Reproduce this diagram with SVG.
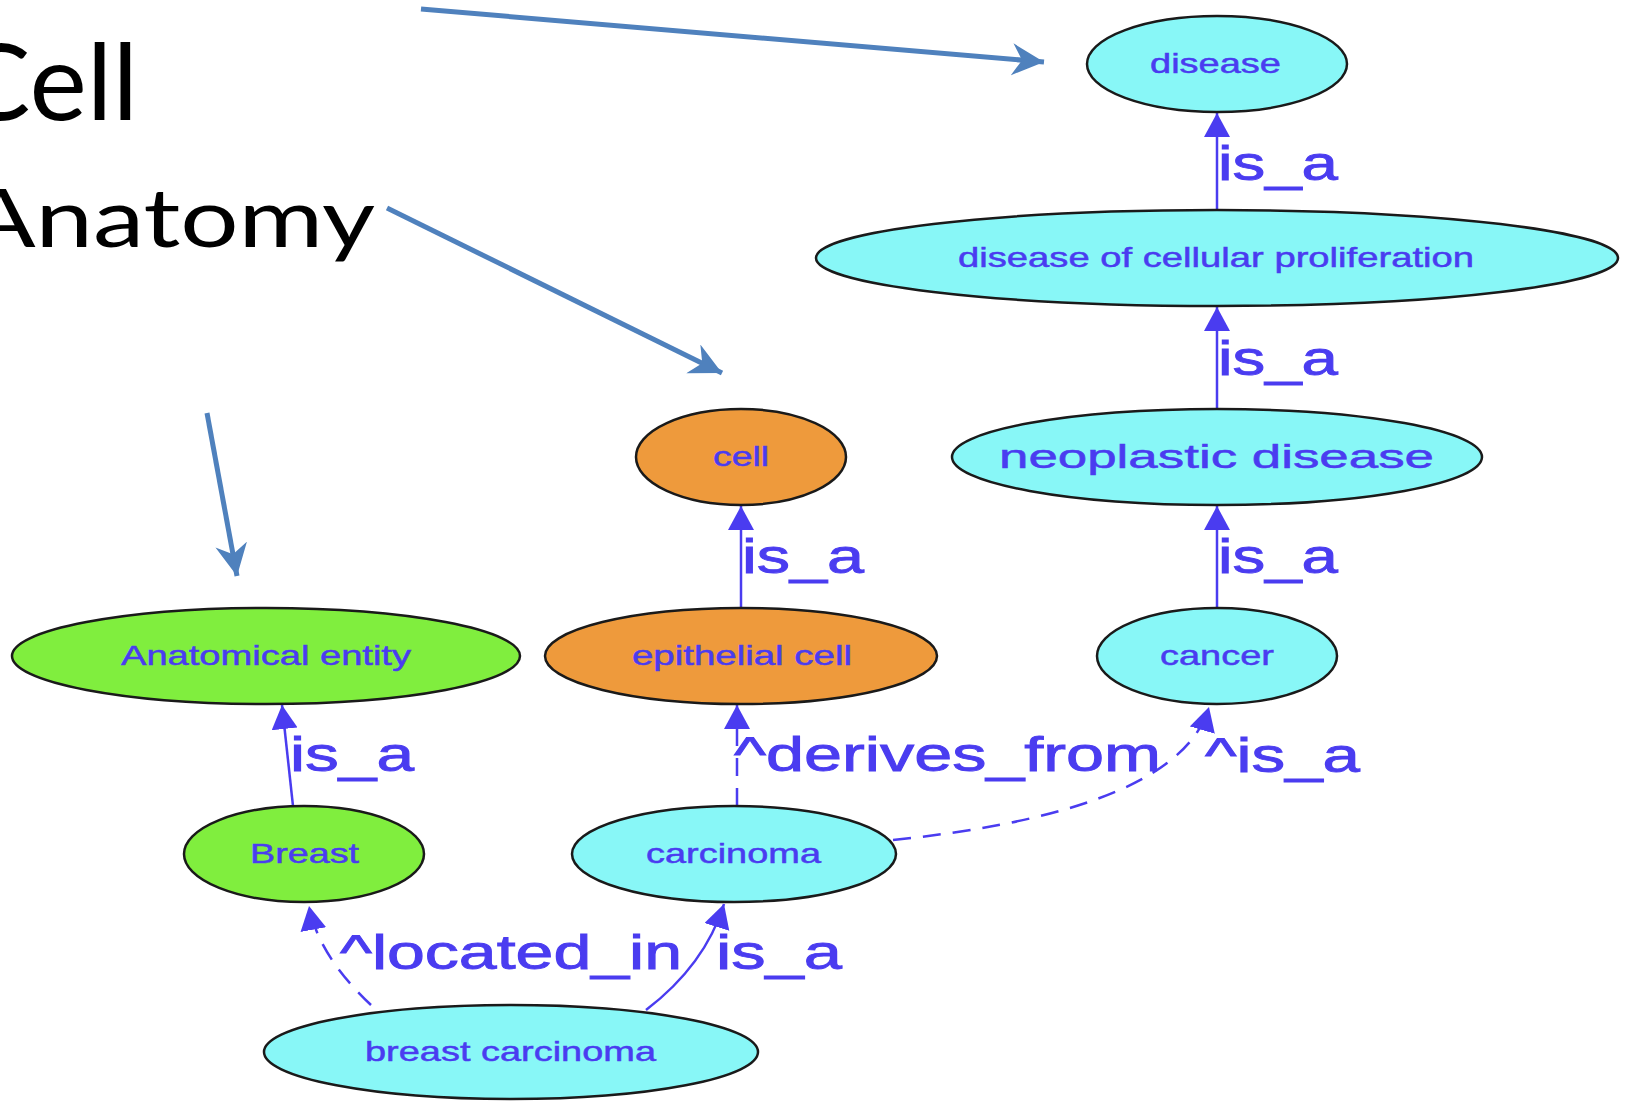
<svg xmlns="http://www.w3.org/2000/svg" width="1625" height="1101" viewBox="0 0 1625 1101">
<style>
.node ellipse{stroke:#1a1a1a;stroke-width:2.5}
.cyan{fill:#88F7F7}
.orange{fill:#EE9A3C}
.green{fill:#80EE3E}
.nl{font-family:"Liberation Sans",Arial,sans-serif;font-size:28px;fill:#4a3cf0;stroke:#4a3cf0;stroke-width:0.5}
.el{font-family:"Liberation Sans",Arial,sans-serif;font-size:48px;fill:#4a3cf0;stroke:#4a3cf0;stroke-width:0.9}
.edge{fill:none;stroke:#4a3cf0;stroke-width:2.5}
.dash{stroke-dasharray:18 12}
.ann{fill:none;stroke:#4F81BD;stroke-width:5}
.title{font-family:Lato,"Open Sans",sans-serif;fill:#000}
</style>
<defs>
<marker id="ah" markerUnits="userSpaceOnUse" markerWidth="26" markerHeight="28" refX="24" refY="13" orient="auto">
<path d="M0,0 L24,13 L0,26 z" fill="#4a3cf0"/>
</marker>
<marker id="bh" markerUnits="userSpaceOnUse" markerWidth="34" markerHeight="34" refX="32" refY="16" orient="auto">
<path d="M0,0 L32,16 L0,32 L10,16 z" fill="#4F81BD"/>
</marker>
</defs>

<g id="titles">
<text class="title" x="-42" y="120" font-size="106" textLength="180" lengthAdjust="spacingAndGlyphs">Cell</text>
<text class="title" x="-34" y="247" font-size="82" textLength="409" lengthAdjust="spacingAndGlyphs">Anatomy</text>
</g>

<g id="annotations">
<line class="ann" x1="421" y1="9" x2="1044" y2="62" marker-end="url(#bh)"/>
<line class="ann" x1="387" y1="208" x2="722" y2="373" marker-end="url(#bh)"/>
<line class="ann" x1="207" y1="413" x2="237" y2="576" marker-end="url(#bh)"/>
</g>

<g id="connectors">
<g id="e1"><line class="edge" x1="1217" y1="210" x2="1217" y2="113" marker-end="url(#ah)"/>
<text class="el" x="1218" y="180" textLength="120" lengthAdjust="spacingAndGlyphs">is_a</text></g>
<g id="e2"><line class="edge" x1="1217" y1="409" x2="1217" y2="307" marker-end="url(#ah)"/>
<text class="el" x="1218" y="375" textLength="120" lengthAdjust="spacingAndGlyphs">is_a</text></g>
<g id="e3"><line class="edge" x1="1217" y1="608" x2="1217" y2="506" marker-end="url(#ah)"/>
<text class="el" x="1218" y="573" textLength="120" lengthAdjust="spacingAndGlyphs">is_a</text></g>
<g id="e4"><line class="edge" x1="741" y1="608" x2="741" y2="506" marker-end="url(#ah)"/>
<text class="el" x="742" y="573" textLength="122" lengthAdjust="spacingAndGlyphs">is_a</text></g>
<g id="e5"><line class="edge" x1="293" y1="806" x2="282" y2="705" marker-end="url(#ah)"/>
<text class="el" x="290" y="771" textLength="124" lengthAdjust="spacingAndGlyphs">is_a</text></g>
<g id="e6"><line class="edge dash" x1="737" y1="806" x2="737" y2="705" marker-end="url(#ah)"/>
<text class="el" x="734" y="771" textLength="427" lengthAdjust="spacingAndGlyphs">^derives_from</text></g>
<g id="e7"><path class="edge dash" d="M893,840 C1040,825 1185,790 1209,707" marker-end="url(#ah)"/>
<text class="el" x="1205" y="772" textLength="155" lengthAdjust="spacingAndGlyphs">^is_a</text></g>
<g id="e8"><path class="edge dash" d="M371,1005 Q318,955 309,906" marker-end="url(#ah)"/>
<text class="el" x="340" y="969" textLength="342" lengthAdjust="spacingAndGlyphs">^located_in</text></g>
<g id="e9"><path class="edge" d="M646,1010 Q705,965 724,904" marker-end="url(#ah)"/>
<text class="el" x="716" y="969" textLength="126" lengthAdjust="spacingAndGlyphs">is_a</text></g>
</g>

<g id="n-disease" class="node"><ellipse class="cyan" cx="1217" cy="64" rx="130" ry="48"/>
<text class="nl" x="1150" y="73" textLength="131" lengthAdjust="spacingAndGlyphs">disease</text></g>
<g id="n-dcp" class="node"><ellipse class="cyan" cx="1217" cy="258" rx="401" ry="48"/>
<text class="nl" x="958" y="267" textLength="516" lengthAdjust="spacingAndGlyphs">disease of cellular proliferation</text></g>
<g id="n-neoplastic" class="node"><ellipse class="cyan" cx="1217" cy="457" rx="265" ry="48"/>
<text class="nl" x="999" y="468" textLength="435" lengthAdjust="spacingAndGlyphs" style="font-size:33px">neoplastic disease</text></g>
<g id="n-cell" class="node"><ellipse class="orange" cx="741" cy="457" rx="105" ry="48"/>
<text class="nl" x="713" y="466" textLength="56" lengthAdjust="spacingAndGlyphs">cell</text></g>
<g id="n-epithelial" class="node"><ellipse class="orange" cx="741" cy="656" rx="196" ry="48"/>
<text class="nl" x="632" y="665" textLength="220" lengthAdjust="spacingAndGlyphs">epithelial cell</text></g>
<g id="n-cancer" class="node"><ellipse class="cyan" cx="1217" cy="656" rx="120" ry="48"/>
<text class="nl" x="1160" y="665" textLength="114" lengthAdjust="spacingAndGlyphs">cancer</text></g>
<g id="n-anatomical" class="node"><ellipse class="green" cx="266" cy="656" rx="254" ry="48"/>
<text class="nl" x="121" y="665" textLength="290" lengthAdjust="spacingAndGlyphs">Anatomical entity</text></g>
<g id="n-breast" class="node"><ellipse class="green" cx="304" cy="854" rx="120" ry="48"/>
<text class="nl" x="250" y="863" textLength="109" lengthAdjust="spacingAndGlyphs">Breast</text></g>
<g id="n-carcinoma" class="node"><ellipse class="cyan" cx="734" cy="854" rx="162" ry="48"/>
<text class="nl" x="646" y="863" textLength="175" lengthAdjust="spacingAndGlyphs">carcinoma</text></g>
<g id="n-breast-carcinoma" class="node"><ellipse class="cyan" cx="511" cy="1052" rx="247" ry="47"/>
<text class="nl" x="365" y="1061" textLength="291" lengthAdjust="spacingAndGlyphs">breast carcinoma</text></g>
</svg>
